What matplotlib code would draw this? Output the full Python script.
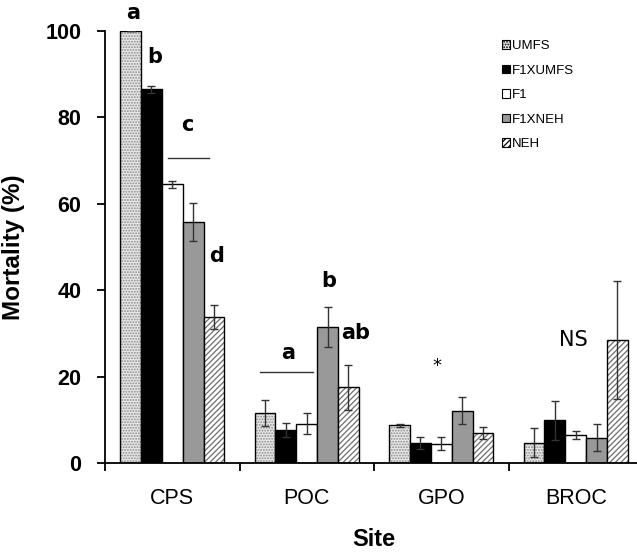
import numpy as np
import matplotlib
matplotlib.use('Agg')
import matplotlib.pyplot as plt
from matplotlib.patches import Patch

plt.rcParams['font.family'] = ['Liberation Sans', 'DejaVu Sans']
plt.rcParams['hatch.linewidth'] = 0.9

sites = ['CPS', 'POC', 'GPO', 'BROC']
lines = ['UMFS', 'F1XUMFS', 'F1', 'F1XNEH', 'NEH']

umfs = [100.0, 11.6, 8.7, 4.7]
umfs_se = [0.0, 3.0, 0.3, 3.3]
f1xumfs = [86.5, 7.7, 4.6, 9.9]
f1xumfs_se = [0.8, 1.6, 1.4, 4.5]
f1 = [64.5, 9.1, 4.5, 6.5]
f1_se = [0.8, 2.4, 1.6, 0.9]
f1xneh = [55.9, 31.4, 12.1, 5.9]
f1xneh_se = [4.4, 4.6, 3.1, 3.1]
neh = [33.8, 17.5, 7.0, 28.5]
neh_se = [2.7, 5.2, 1.4, 13.7]

# significance letters: (text, x, y, weight, size)
letters = [('a', -0.29, 104.2, 'bold', 15),
           ('b', -0.13, 94.0, 'bold', 15),
           ('c', 0.11, 78.2, 'bold', 15),
           ('d', 0.33, 48.0, 'bold', 15),
           ('a', 0.86, 25.5, 'bold', 15),
           ('b', 1.16, 42.1, 'bold', 15),
           ('ab', 1.36, 30.1, 'bold', 15),
           ('*', 1.97, 22.5, 'normal', 13),
           ('NS', 2.98, 28.5, 'normal', 15)]
# grouping bars under a shared letter: (x0, x1, y)
group_lines = [(-0.03, 0.27, 70.6), (0.65, 1.05, 21.1)]

means = [umfs, f1xumfs, f1, f1xneh, neh]
errs = [umfs_se, f1xumfs_se, f1_se, f1xneh_se, neh_se]
faces = ['#e8e8e8', 'black', 'white', '#999999', 'white']
hatches = ['......', None, None, None, '//////']
hatch_cols = ['#8a8a8a', None, None, None, '#6e6e6e']

fig = plt.figure(figsize=(6.37, 5.56), dpi=100)
ax = fig.add_axes([105 / 637, 1 - 463 / 556, 538 / 637, 432 / 556])

x = np.arange(len(sites))
w = 0.155
for i in range(5):
    pos = x + (i - 2) * w
    if hatches[i]:
        # hatch in grey first, then the black outline on top
        ax.bar(pos, means[i], w, color=faces[i], edgecolor=hatch_cols[i],
               linewidth=0, hatch=hatches[i], zorder=2)
        ax.bar(pos, means[i], w, color='none', edgecolor='black',
               linewidth=1.0, zorder=3)
    else:
        ax.bar(pos, means[i], w, color=faces[i], edgecolor='black',
               linewidth=1.0, zorder=2)
    ax.errorbar(pos, means[i], yerr=errs[i], fmt='none', ecolor='#333333',
                elinewidth=1.0, capsize=3.2, capthick=1.0, zorder=4)

for t, tx, ty, fw, fs in letters:
    ax.text(tx, ty, t, ha='center', va='center', fontsize=fs, fontweight=fw,
            family=['DejaVu Sans'], clip_on=False)
for x0, x1, yy in group_lines:
    ax.plot([x0, x1], [yy, yy], color='#333333', lw=1.0)

ax.set_xlim(-0.5, 3.5)
ax.set_ylim(0, 100)
ax.set_yticks([0, 20, 40, 60, 80, 100])
ax.set_xticks(x)
ax.set_xticklabels(sites)
ax.set_xticks(np.arange(-0.5, 4.0, 1.0), minor=True)
ax.tick_params(axis='x', which='major', length=0, pad=18, labelsize=15.5)
ax.tick_params(axis='x', which='minor', length=6, width=1.3, direction='out')
ax.tick_params(axis='y', length=6, width=1.3, pad=11, labelsize=15.5)
for lab in ax.get_yticklabels():
    lab.set_fontweight('bold')

for s in ['top', 'right']:
    ax.spines[s].set_visible(False)
for s in ['left', 'bottom']:
    ax.spines[s].set_linewidth(1.3)

ax.set_ylabel('Mortality (%)', fontsize=17.5, fontweight='bold')
ax.yaxis.set_label_coords(-0.148, 0.5)
ax.set_xlabel('Site', fontsize=17, fontweight='bold', labelpad=14)

handles = [Patch(facecolor=faces[i], edgecolor='black', hatch=hatches[i],
                 linewidth=0.8) for i in range(5)]
ax.legend(handles, lines, loc='upper left', frameon=False,
          bbox_to_anchor=(502 / 637, 1 - 40 / 556),
          bbox_transform=fig.transFigure, borderpad=0, borderaxespad=0,
          fontsize=9.5, handlelength=0.6, handleheight=0.6,
          handletextpad=0.15, labelspacing=0.95)

fig.savefig('out.png', dpi=100)
